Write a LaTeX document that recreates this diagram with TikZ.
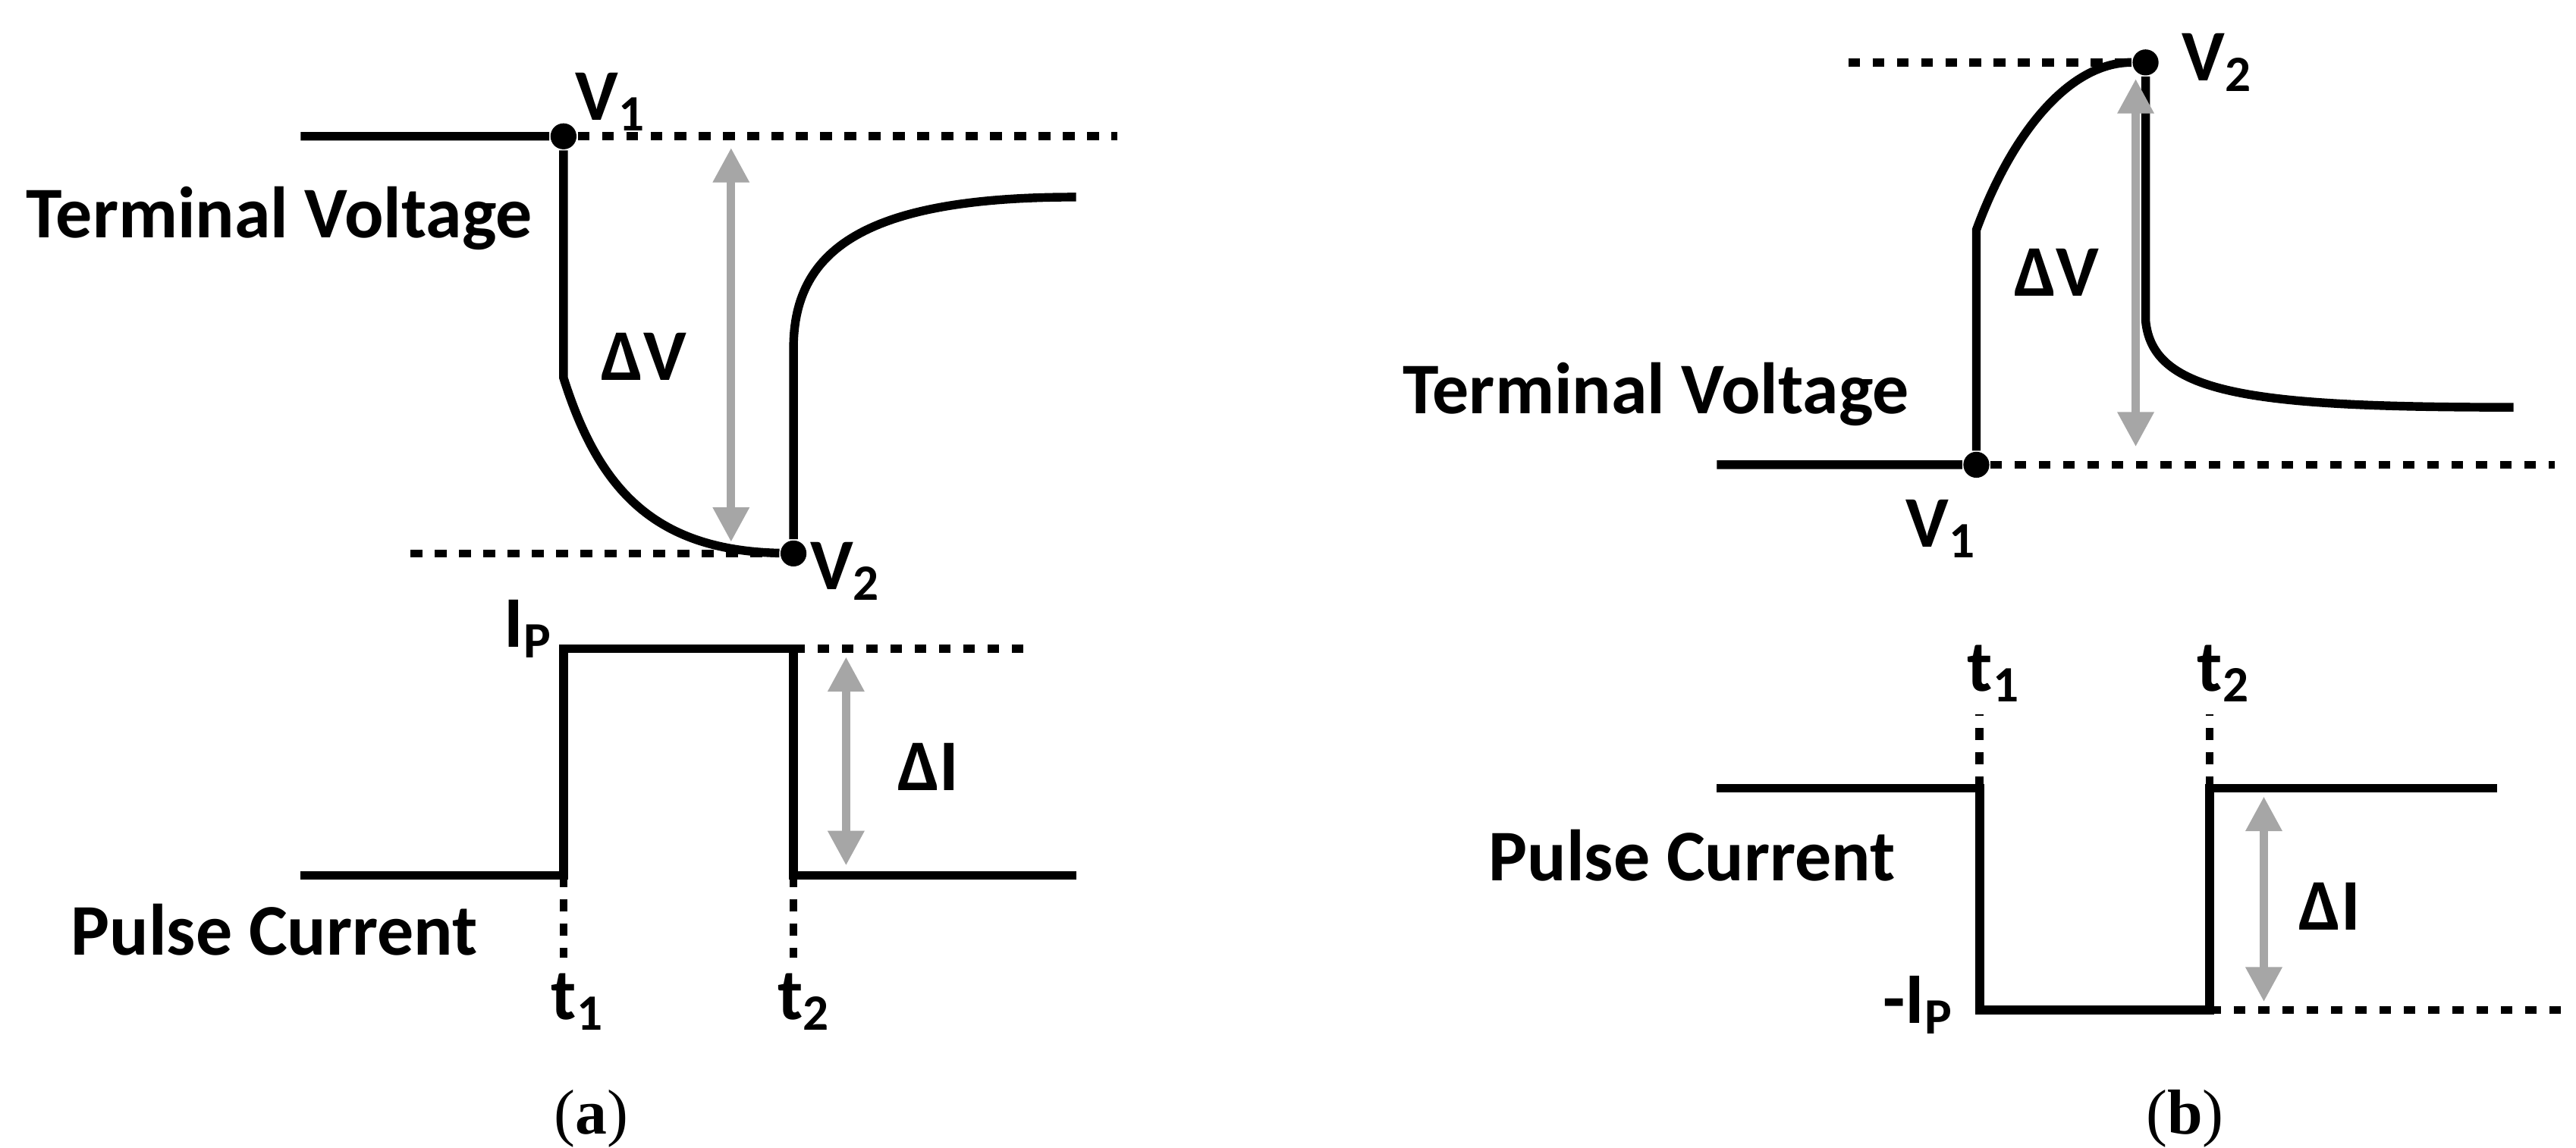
\documentclass[tikz,border=0pt]{standalone}
\usepackage{fontspec}
\setmainfont{Carlito}
\newfontfamily\capfont{Liberation Serif}
\usetikzlibrary{arrows.meta}

\newcommand{\sub}[1]{\textsubscript{#1}}

\tikzset{
	wave/.style={line width=1.5pt, line join=miter},
	lvl/.style={line width=1.4pt, dash pattern=on 2pt off 2.2pt},
	delta/.style={line width=1.4pt, gray!70, {Triangle[length=6pt,width=6pt]}-{Triangle[length=6pt,width=6pt]}},
	lbl/.style={font=\bfseries\fontsize{12.6}{15}\selectfont, inner sep=1pt},
	dot/.style={circle, fill=black, inner sep=0pt, minimum size=4.5pt}
}

\begin{document}
\begin{tikzpicture}[x=0.01cm, y=-0.01cm]
	\useasboundingbox (0,0) rectangle (1568,699);

	% (a) terminal voltage
	\node[dot] (av1) at (343,83) {};
	\node[dot] (av2) at (483,337) {};
	\coordinate (avs) at (183,83);
	\coordinate (ave) at (655,120);
	\draw[wave] (avs) -- (av1) -- (343,230) .. controls (365,300) and (400,335) .. (av2)
		-- (483,212) .. controls (483,150) and (530,120) .. (ave);
	\draw[lvl] (av1) -- (680,83);
	\draw[lvl] (250,337) -- (av2);
	\draw[delta] (445,90) -- (445,330);
	\node[lbl] at (372,62) {V\sub{1}};
	\node[lbl] at (515,348) {V\sub{2}};
	\node[lbl] at (392,217) {ΔV};
	\node[lbl] at (170,133) {Terminal Voltage};

	% (a) pulse current
	\coordinate (ai1) at (343,533);
	\coordinate (ai2) at (483,533);
	\draw[wave] (183,533) -- (ai1) -- (343,395) -- (483,395) -- (ai2) -- (655,533);
	\draw[lvl] (483,395) -- (625,395);
	\draw[lvl] (ai1) -- (343,583);
	\draw[lvl] (ai2) -- (483,583);
	\draw[delta] (515,400) -- (515,527);
	\node[lbl] at (322,383) {I\sub{P}};
	\node[lbl] at (565,467) {ΔI};
	\node[lbl] at (352,610) {t\sub{1}};
	\node[lbl] at (490,610) {t\sub{2}};
	\node[lbl] at (167,566) {Pulse Current};
	\node[font=\capfont\fontsize{11}{13}\selectfont] at (360,681) {(\textbf{a})};

	% (b) terminal voltage
	\node[dot] (bv1) at (1203,283) {};
	\node[dot] (bv2) at (1306,38) {};
	\draw[wave] (1045,283) -- (bv1) -- (1203,140) .. controls (1225,80) and (1260,38) .. (bv2)
		-- (1306,195) .. controls (1310,240) and (1370,248) .. (1530,248);
	\draw[lvl] (bv1) -- (1555,283);
	\draw[lvl] (1125,38) -- (bv2);
	\draw[delta] (1300,48) -- (1300,272);
	\node[lbl] at (1350,38) {V\sub{2}};
	\node[lbl] at (1182,322) {V\sub{1}};
	\node[lbl] at (1252,166) {ΔV};
	\node[lbl] at (1008,240) {Terminal Voltage};

	% (b) pulse current
	\coordinate (bi1) at (1205,480);
	\coordinate (bi2) at (1345,480);
	\draw[wave] (1045,480) -- (bi1) -- (1205,615) -- (1345,615) -- (bi2) -- (1520,480);
	\draw[lvl] (1345,615) -- (1560,615);
	\draw[lvl] (bi1) -- (1205,435);
	\draw[lvl] (bi2) -- (1345,435);
	\draw[delta] (1378,485) -- (1378,610);
	\node[lbl] at (1214,410) {t\sub{1}};
	\node[lbl] at (1354,410) {t\sub{2}};
	\node[lbl] at (1168,612) {-I\sub{P}};
	\node[lbl] at (1418,552) {ΔI};
	\node[lbl] at (1030,521) {Pulse Current};
	\node[font=\capfont\fontsize{11}{13}\selectfont] at (1330,681) {(\textbf{b})};
\end{tikzpicture}
\end{document}
